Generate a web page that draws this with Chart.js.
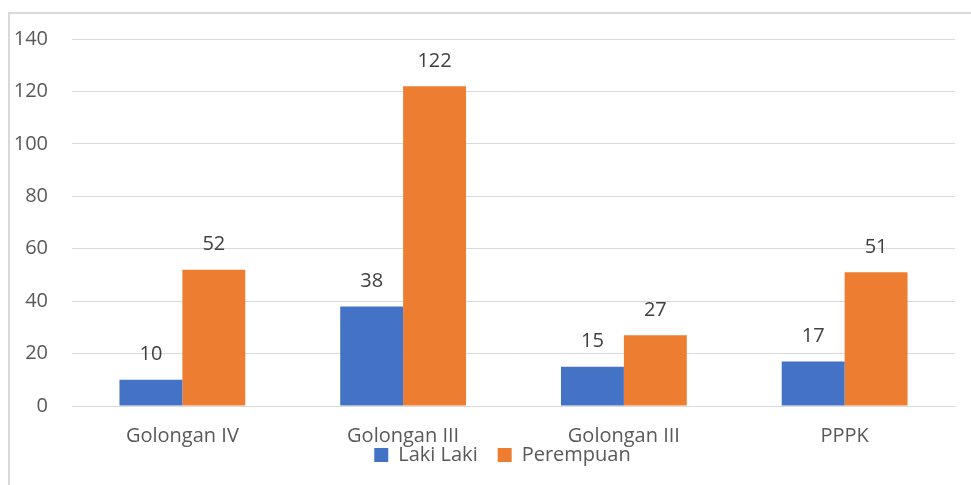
<!DOCTYPE html>
<html>
<head>
<meta charset="utf-8">
<script src="https://cdn.jsdelivr.net/npm/chart.js@4/dist/chart.umd.min.js"></script>
<style>
  html, body { margin: 0; padding: 0; background: #fff; overflow: hidden; }
  #frame { position: absolute; left: 8px; top: 12px; width: 1000px; height: 540px;
           border-left: 2px solid #d9d9d9; border-top: 2px solid #d9d9d9; }
  #chart { position: absolute; left: 0; top: 0; }
</style>
</head>
<body>
<div id="frame"></div>
<canvas id="chart" width="971" height="516"></canvas>
<script>
'use strict';

var categories = ["Golongan IV", "Golongan III", "Golongan III", "PPPK"];
var lakiLaki = [10, 38, 15, 17];
var perempuan = [52, 122, 27, 51];
var yTicks = [0, 20, 40, 60, 80, 100, 120, 140];

var fontFamily = "'Open Sans', 'Noto Sans', sans-serif";

// angka di atas batang
var valueLabels = {
  id: 'valueLabels',
  afterDatasetsDraw(chart) {
    let ctx = chart.ctx;
    ctx.save();
    ctx.font = "20px " + fontFamily;
    ctx.fillStyle = "#404040";
    ctx.textAlign = "center";
    ctx.textBaseline = "middle";
    chart.data.datasets.forEach((ds, i) => {
      chart.getDatasetMeta(i).data.forEach((bar, j) => {
        ctx.fillText(String(ds.data[j]), bar.x, bar.y - 25);
      });
    });
    ctx.restore();
  }
};

// legenda ditumpuk sedikit ke atas label sumbu x, seperti aslinya
var legendShift = {
  id: 'legendShift',
  afterLayout(chart) {
    let lg = chart.legend;
    if (!lg) return;
    let dy = -41, dx = 25;
    lg.top += dy; lg.bottom += dy;
    lg.left += dx; lg.right += dx;
  }
};

new Chart(document.getElementById("chart"), {
  type: 'bar',
  data: {
    labels: categories,
    datasets: [
      { label: "Laki Laki", data: lakiLaki, backgroundColor: "#4472C4" },
      { label: "Perempuan", data: perempuan, backgroundColor: "#ED7D31" }
    ]
  },
  options: {
    responsive: false,
    animation: false,
    layout: { padding: { top: 39, right: 16, left: 0, bottom: 0 } },
    datasets: { bar: { barPercentage: 1, categoryPercentage: 0.57 } },
    scales: {
      x: {
        grid: { display: false, drawTicks: false },
        border: { color: "#d9d9d9", width: 1 },
        ticks: { padding: 18, color: "#595959", font: { family: fontFamily, size: 20 } }
      },
      y: {
        min: 0,
        max: 140,
        afterBuildTicks(scale) { scale.ticks = yTicks.map(v => ({ value: v })); },
        grid: { color: "#d9d9d9", drawTicks: false },
        border: { display: false },
        ticks: { padding: 24, color: "#595959", font: { family: fontFamily, size: 20 } },
        afterFit(scale) { scale.width = 72; }
      }
    },
    plugins: {
      tooltip: { enabled: false },
      legend: {
        position: 'bottom',
        labels: {
          boxWidth: 14,
          boxHeight: 14,
          padding: 20,
          color: "#595959",
          font: { family: fontFamily, size: 20 }
        }
      }
    }
  },
  plugins: [valueLabels, legendShift]
});
</script>
</body>
</html>
